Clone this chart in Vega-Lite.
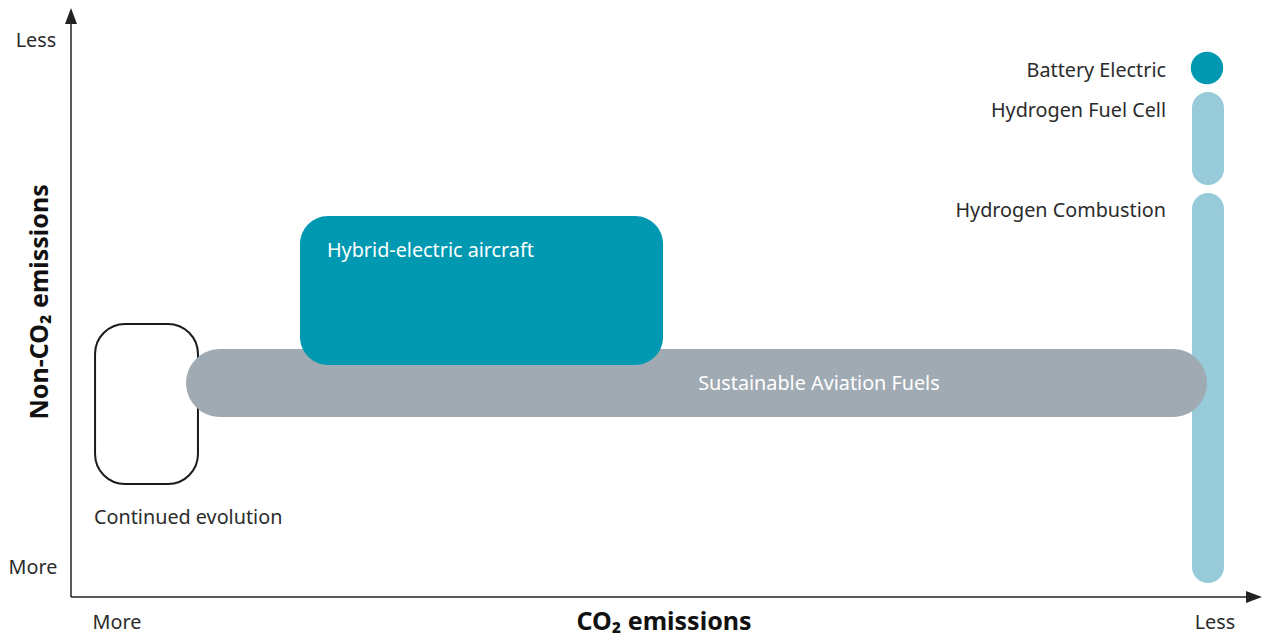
{
  "$schema": "https://vega.github.io/schema/vega-lite/v6.json",
  "width": 1191,
  "height": 589,
  "autosize": {"type": "none"},
  "padding": {"left": 71, "top": 8, "right": 8, "bottom": 43},
  "background": "white",
  "config": {"view": {"stroke": null}, "text": {"font": "Noto Sans", "fontSize": 19.8, "color": "#2b2b2b"}},
  "encoding": {
    "x": {"field": "x", "type": "quantitative", "scale": {"domain": [0, 100], "nice": false, "zero": false}, "axis": null},
    "y": {"field": "y", "type": "quantitative", "scale": {"domain": [0, 100], "nice": false, "zero": false}, "axis": null}
  },
  "layer": [
    {
      "data": {"values": [{"name": "Continued evolution", "x": 2.02, "x2": 10.66, "y": 46.35, "y2": 19.19}]},
      "mark": {"type": "rect", "cornerRadius": 30, "fill": "white", "stroke": "#1a1a1a", "strokeWidth": 2},
      "encoding": {"x2": {"field": "x2"}, "y2": {"field": "y2"}}
    },
    {
      "data": {"values": [
        {"name": "Hydrogen Combustion", "x": 94.12, "x2": 96.81, "y": 68.59, "y2": 2.38},
        {"name": "Hydrogen Fuel Cell", "x": 94.12, "x2": 96.81, "y": 85.74, "y2": 69.95}
      ]},
      "mark": {"type": "rect", "cornerRadius": 16, "fill": "#97cbda"},
      "encoding": {"x2": {"field": "x2"}, "y2": {"field": "y2"}}
    },
    {
      "data": {"values": [{"name": "Sustainable Aviation Fuels", "x": 9.66, "x2": 95.38, "y": 42.11, "y2": 30.56}]},
      "mark": {"type": "rect", "cornerRadius": 34, "fill": "#a0aab2"},
      "encoding": {"x2": {"field": "x2"}, "y2": {"field": "y2"}}
    },
    {
      "data": {"values": [{"name": "Hybrid-electric aircraft", "x": 19.23, "x2": 49.71, "y": 64.69, "y2": 39.39}]},
      "mark": {"type": "rect", "cornerRadius": 28, "fill": "#0099b1"},
      "encoding": {"x2": {"field": "x2"}, "y2": {"field": "y2"}}
    },
    {
      "data": {"values": [{"name": "Battery Electric", "x": 95.38, "y": 89.81}]},
      "mark": {"type": "point", "shape": "circle", "filled": true, "size": 1050, "color": "#0099b1", "opacity": 1}
    },
    {
      "data": {"values": [
        {"label": "Battery Electric", "x": 91.94, "y": 89.3},
        {"label": "Hydrogen Fuel Cell", "x": 91.94, "y": 82.51},
        {"label": "Hydrogen Combustion", "x": 91.94, "y": 65.53}
      ]},
      "mark": {"type": "text", "align": "right", "baseline": "middle"},
      "encoding": {"text": {"field": "label"}}
    },
    {
      "data": {"values": [{"label": "Hybrid-electric aircraft", "x": 21.49, "y": 58.74}]},
      "mark": {"type": "text", "align": "left", "baseline": "middle", "color": "white"},
      "encoding": {"text": {"field": "label"}}
    },
    {
      "data": {"values": [{"label": "Sustainable Aviation Fuels", "x": 62.8, "y": 36.16}]},
      "mark": {"type": "text", "align": "center", "baseline": "middle", "color": "white"},
      "encoding": {"text": {"field": "label"}}
    },
    {
      "data": {"values": [{"label": "Continued evolution", "x": 1.93, "y": 13.41}]},
      "mark": {"type": "text", "align": "left", "baseline": "middle"},
      "encoding": {"text": {"field": "label"}}
    },
    {
      "data": {"values": [
        {"label": "Less", "x": -2.94, "y": 94.4},
        {"label": "More", "x": -3.19, "y": 4.92},
        {"label": "More", "x": 3.86, "y": -4.41},
        {"label": "Less", "x": 96.05, "y": -4.41}
      ]},
      "mark": {"type": "text", "align": "center", "baseline": "middle"},
      "encoding": {"text": {"field": "label"}}
    },
    {
      "data": {"values": [{"label": "CO₂ emissions", "x": 49.79, "y": -4.24}]},
      "mark": {"type": "text", "align": "center", "baseline": "middle", "fontSize": 25, "fontWeight": "bold", "color": "#111"},
      "encoding": {"text": {"field": "label"}}
    },
    {
      "data": {"values": [{"label": "Non-CO₂ emissions", "x": -2.6, "y": 50.1}]},
      "mark": {"type": "text", "align": "center", "baseline": "middle", "angle": 270, "fontSize": 25, "fontWeight": "bold", "color": "#111"},
      "encoding": {"text": {"field": "label"}}
    },
    {
      "data": {"values": [{"x": 0, "x2": 99, "y": 0}]},
      "mark": {"type": "rule", "color": "#222", "strokeWidth": 1.5},
      "encoding": {"x2": {"field": "x2"}}
    },
    {
      "data": {"values": [{"x": 0, "y": 0, "y2": 98}]},
      "mark": {"type": "rule", "color": "#222", "strokeWidth": 1.5},
      "encoding": {"y2": {"field": "y2"}}
    },
    {
      "data": {"values": [{"x": 0, "y": 100}]},
      "mark": {"type": "point", "shape": "M0,0L0.75,2L-0.75,2Z", "size": 256, "filled": true, "color": "#222", "opacity": 1}
    },
    {
      "data": {"values": [{"x": 100, "y": 0}]},
      "mark": {"type": "point", "shape": "M0,0L-2,-0.75L-2,0.75Z", "size": 256, "filled": true, "color": "#222", "opacity": 1}
    }
  ]
}
